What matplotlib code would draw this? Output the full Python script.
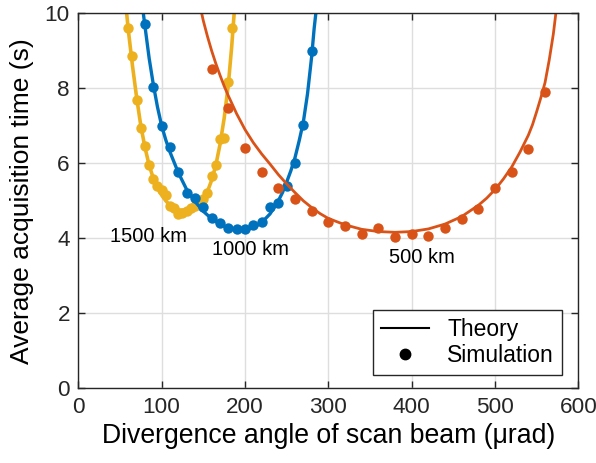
import numpy as np
import matplotlib.pyplot as plt
from matplotlib.lines import Line2D

plt.rcParams['font.family'] = ['Liberation Sans', 'DejaVu Sans']

# colores tipo MATLAB
c_500 = '#D95319'
c_1000 = '#0072BD'
c_1500 = '#EDB120'

# --- 500 km ---
x500_sim = [160, 180, 200, 220, 240, 260, 280, 300, 320, 340, 360, 380, 400,
            420, 440, 460, 480, 500, 520, 540, 560]
y500_sim = [8.51, 7.47, 6.42, 5.76, 5.33, 5.04, 4.72, 4.43, 4.33, 4.11, 4.27,
            4.03, 4.11, 4.06, 4.28, 4.51, 4.77, 5.35, 5.77, 6.38, 7.91]
x500_th = [148, 150, 155, 160, 165, 170, 175, 180, 190, 200, 210, 220, 230, 240,
           250, 260, 270, 280, 290, 300, 320, 340, 360, 380, 400, 420, 440,
           460, 480, 490, 500, 510, 520, 530, 540, 545, 550, 555, 560, 565,
           570, 573]
y500_th = [10.0, 9.8, 9.38, 9.0, 8.66, 8.35, 8.06, 7.8, 7.32, 6.9, 6.55, 6.25,
           5.98, 5.7, 5.45, 5.22, 5.0, 4.82, 4.66, 4.53, 4.36, 4.24, 4.18, 4.16,
           4.18, 4.25, 4.38, 4.58, 4.88, 5.07, 5.3, 5.58, 5.9, 6.3, 6.75, 7.03,
           7.38, 7.75, 8.15, 8.75, 9.45, 10.0]

# --- 1000 km ---
x1000_sim = [80, 90, 100, 110, 120, 130, 140, 150, 160, 170, 180, 190, 200,
             210, 220, 230, 240, 250, 260, 270, 280]
y1000_sim = [9.71, 8.04, 7.0, 6.43, 5.76, 5.22, 5.08, 4.84, 4.53, 4.4, 4.28,
             4.24, 4.24, 4.35, 4.44, 4.84, 4.93, 5.4, 6.02, 7.02, 9.0]
x1000_th = [78, 80, 85, 90, 95, 100, 105, 110, 120, 130, 140, 150, 160, 170,
            180, 190, 200, 210, 220, 230, 240, 245, 250, 255, 260, 265, 270,
            275, 280, 283, 285]
y1000_th = [10.0, 9.65, 8.8, 8.1, 7.5, 7.0, 6.62, 6.3, 5.75, 5.3, 4.98, 4.72,
            4.52, 4.37, 4.27, 4.22, 4.22, 4.28, 4.42, 4.65, 5.0, 5.22, 5.5,
            5.8, 6.15, 6.6, 7.1, 7.85, 8.85, 9.6, 10.0]

# --- 1500 km ---
x1500_sim = [60, 65, 70, 75, 80, 85, 90, 95, 100, 105, 110, 115, 120, 125, 130,
             135, 140, 145, 150, 155, 160, 165, 170, 175, 180, 185]
y1500_sim = [9.6, 8.85, 7.7, 6.95, 6.45, 5.95, 5.58, 5.4, 5.28, 5.15, 4.85,
             4.82, 4.65, 4.67, 4.72, 4.8, 4.87, 4.95, 5.05, 5.2, 5.65, 5.95,
             6.66, 6.68, 8.18, 9.62]
x1500_th = [58, 60, 65, 70, 75, 80, 85, 90, 95, 100, 105, 110, 115, 120, 125,
            130, 135, 140, 145, 150, 155, 160, 165, 170, 175, 180, 184, 187]
y1500_th = [10.0, 9.55, 8.6, 7.75, 7.0, 6.42, 5.95, 5.6, 5.35, 5.15, 5.0, 4.88,
            4.8, 4.76, 4.75, 4.77, 4.8, 4.87, 4.95, 5.07, 5.25, 5.55, 5.95,
            6.5, 7.2, 8.1, 9.1, 10.0]

etiquetas = ['1500 km', '1000 km', '500 km']
pos_etiq = [(84, 4.04), (207, 3.71), (412, 3.48)]

fig = plt.figure(figsize=(5.96, 4.63), dpi=100)
ax = fig.add_axes([0.1314, 0.1613, 0.839, 0.81])

ax.plot(x1500_th, y1500_th, color=c_1500, lw=2.6, solid_capstyle='butt')
ax.plot(x1500_sim, y1500_sim, 'o', color=c_1500, ms=7.5, mew=0)
ax.plot(x1000_th, y1000_th, color=c_1000, lw=2.4, solid_capstyle='butt')
ax.plot(x1000_sim, y1000_sim, 'o', color=c_1000, ms=7.5, mew=0)
ax.plot(x500_th, y500_th, color=c_500, lw=2.0, solid_capstyle='butt')
ax.plot(x500_sim, y500_sim, 'o', color=c_500, ms=7.5, mew=0)

for t, (px, py) in zip(etiquetas, pos_etiq):
    ax.text(px, py, t, fontsize=14.5, ha='center', va='center', color='black')

ax.set_xlim(0, 600)
ax.set_ylim(0, 10)
ax.set_xticks(np.arange(0, 601, 100))
ax.set_yticks(np.arange(0, 11, 2))
ax.grid(True, color='#dedede', lw=1)
ax.set_axisbelow(True)
ax.tick_params(direction='in', top=True, right=True, length=5, width=1,
               labelsize=16.2, colors='#262626', pad=6)
for s in ax.spines.values():
    s.set_color('#262626')
    s.set_linewidth(1)

ax.set_xlabel('Divergence angle of scan beam (\u03bcrad)', fontsize=19.2, labelpad=4)
ax.set_ylabel('Average acquisition time (s)', fontsize=19, labelpad=8)

handles = [Line2D([0], [0], color='black', lw=1.5),
           Line2D([0], [0], marker='o', color='black', ls='none', ms=7.5)]
leg = ax.legend(handles, ['Theory', 'Simulation'], loc='lower right',
                bbox_to_anchor=(0.967, 0.0355), borderaxespad=0, fancybox=False,
                edgecolor='#262626', framealpha=1, fontsize=16.5, handlelength=2.1,
                handletextpad=0.8, borderpad=0.35, labelspacing=0.15)
leg.get_frame().set_linewidth(1)

plt.savefig('out.png', dpi=100)
